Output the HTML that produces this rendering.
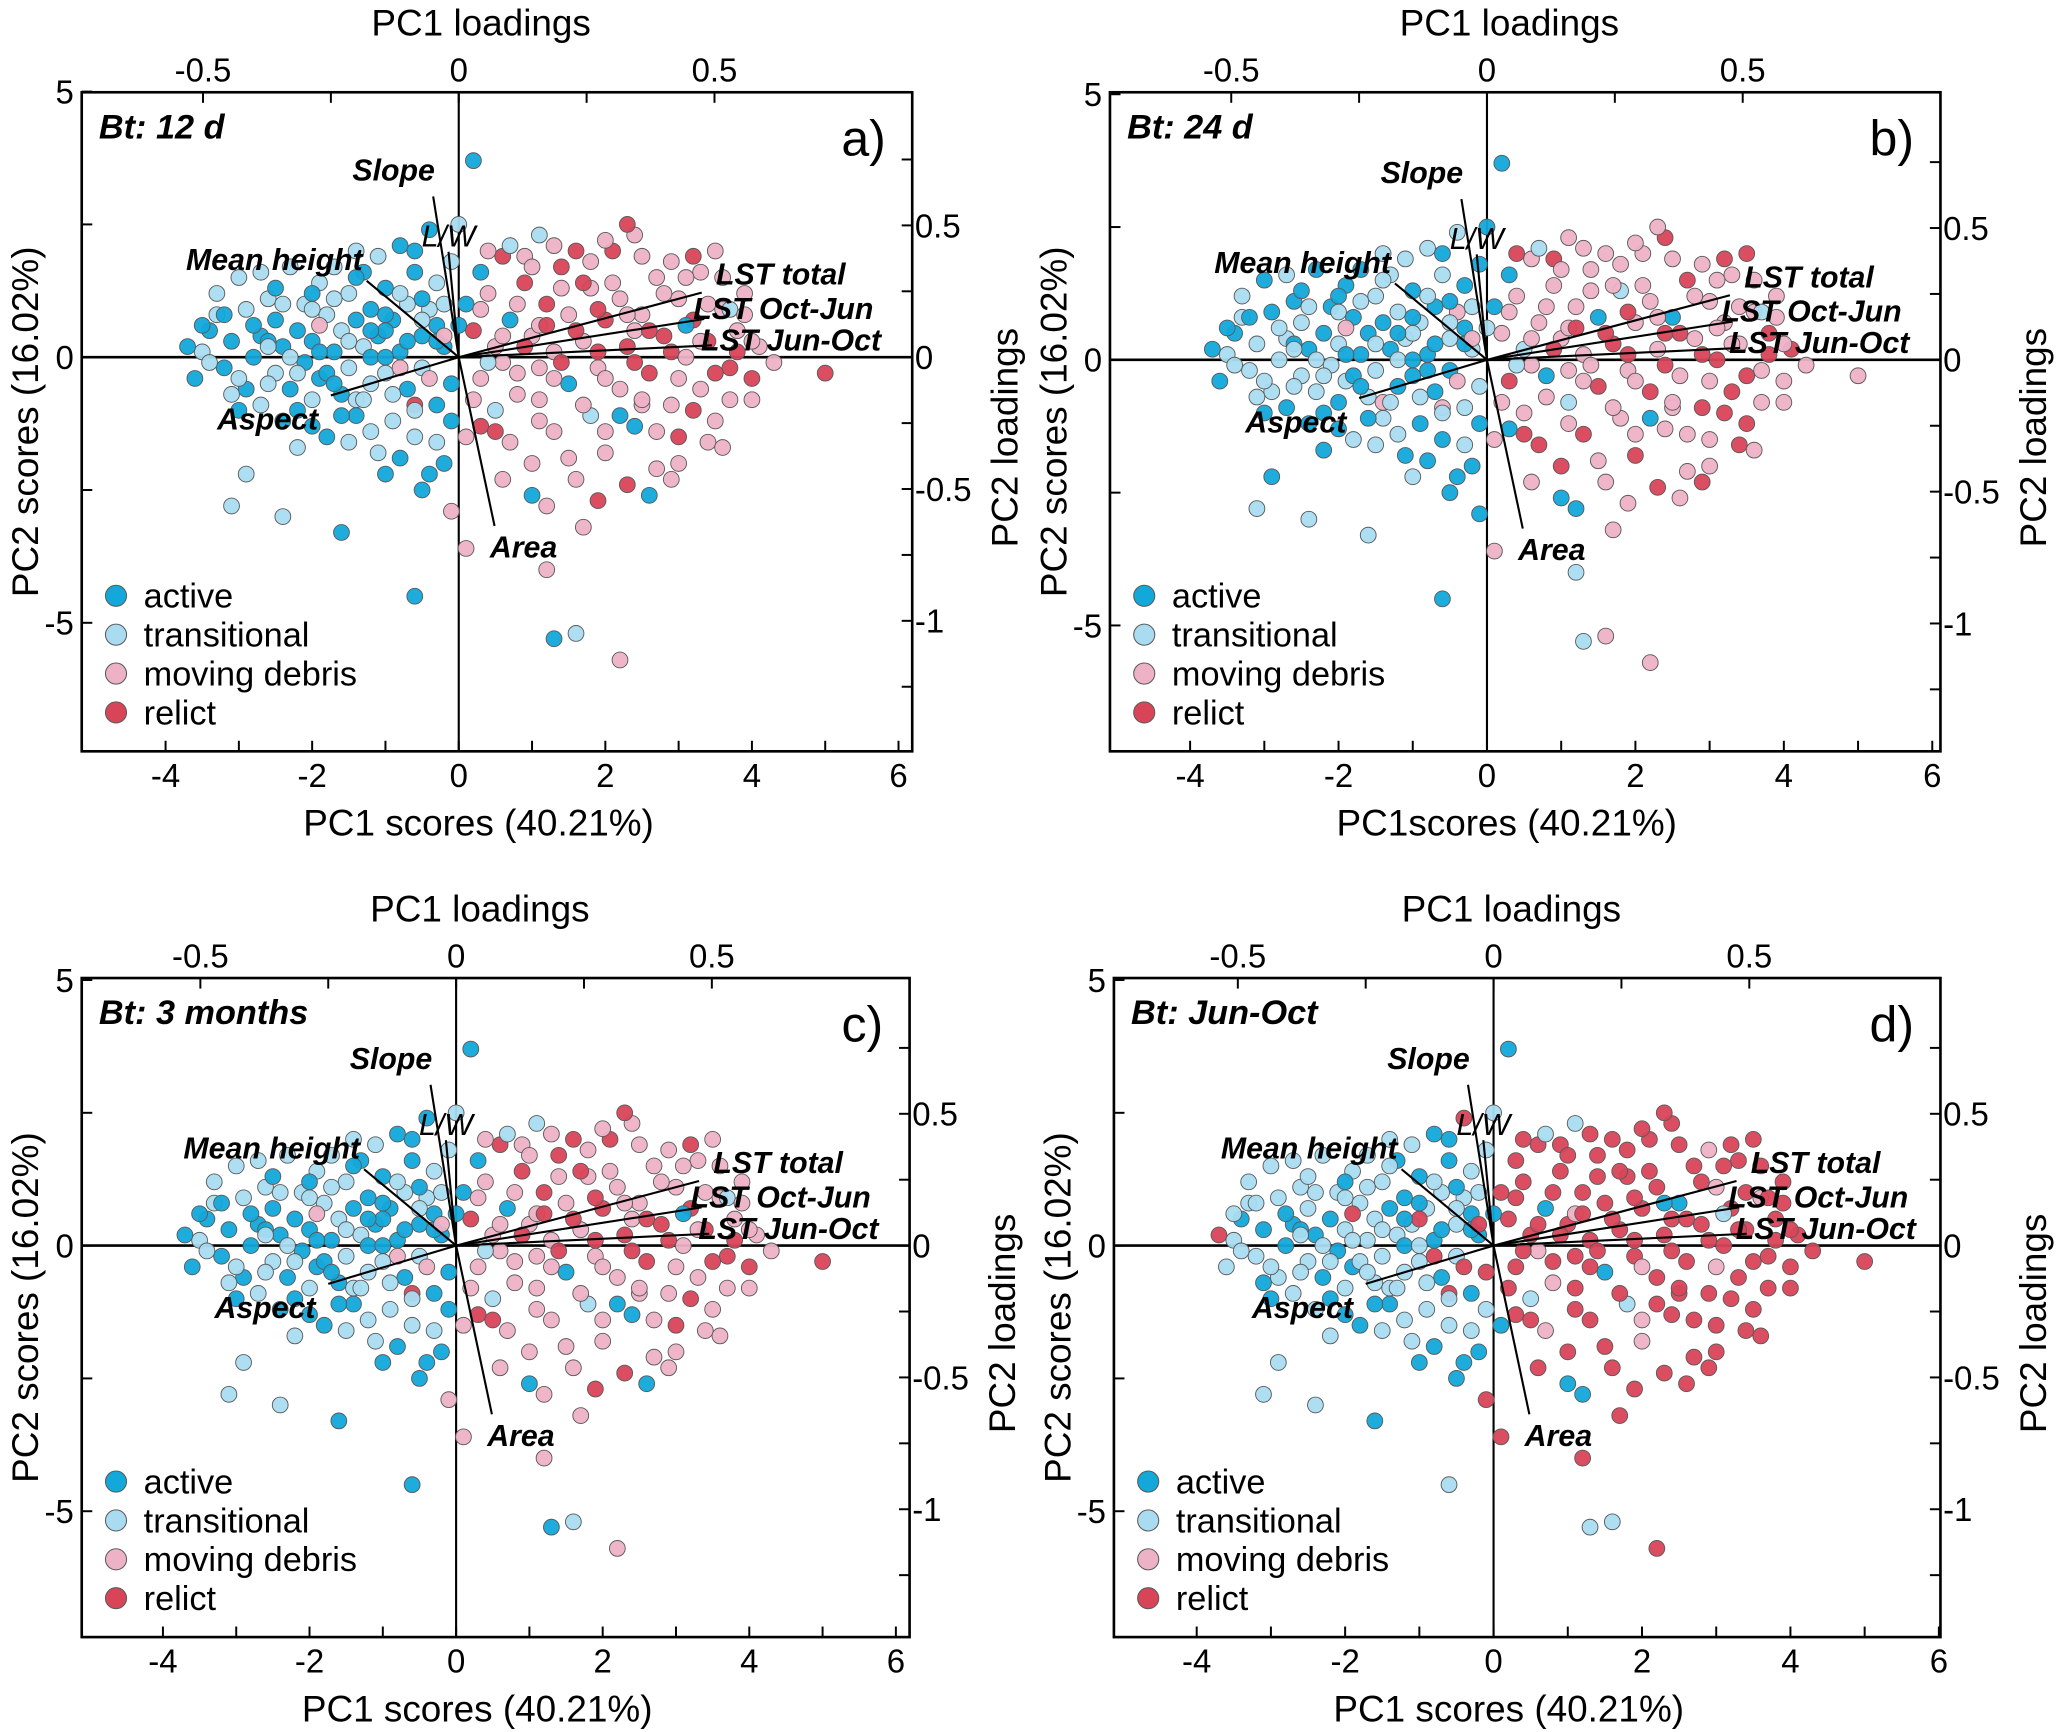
<!DOCTYPE html>
<html><head><meta charset="utf-8"><style>html,body{margin:0;padding:0;background:#fff}svg{display:block}text{font-family:"Liberation Sans",sans-serif}</style></head>
<body>
<svg id="fig" xmlns="http://www.w3.org/2000/svg" width="2067" height="1732" viewBox="0 0 1568 1314" preserveAspectRatio="none"></svg>
<script>
// PC scores (shared sample positions), batch 1
const pc1 = [-3.6,-3.5,-3.4,-3.3,-3.2,-3.1,-3.0,-2.9,-2.9,-2.8,-2.7,-2.7,-2.6,-2.5,-2.5,-2.4,-2.4,-2.3,-2.3,-2.2,-2.1,-2.1,-2.0,-2.0,-1.9,-1.9,-1.8,-1.8,-1.7,-1.7,-1.6,-1.6,-1.5,-1.5,-1.4,-1.4,-1.3,-1.3,-1.2,-1.2,-1.1,-1.1,-1.0,-1.0,-0.9,-0.9,-0.8,-0.8,-0.7,-0.7,-0.6,-0.6,-0.5,-0.5,-0.4,-0.4,-0.3,-0.3,-0.2,-0.2,-0.1,-0.1,0.0,0.0,-3.7,-3.0,-2.2,-1.0,-0.5,
-2.9,-3.1,-2.4,-1.6,-0.6,0.2,-0.1,0.1,
0.2,0.3,0.4,0.5,0.5,0.6,0.7,0.7,0.8,0.9,1.0,1.0,1.1,1.1,1.2,1.3,1.3,1.4,1.5,1.5,1.6,1.6,1.7,1.8,1.8,1.9,2.0,2.0,2.1,2.2,2.2,2.3,2.4,2.4,2.5,2.6,2.7,2.7,2.8,2.9,3.0,3.0,3.1,3.2,3.3,3.3,3.4,3.5,3.6,3.7,3.8,3.9,4.0,4.1,2.6,1.2,1.9,2.9,4.0,4.3,5.0,3.5,2.3,0.4,0.8,1.4,2.4,3.1,3.7,
1.2,2.2,1.6,1.3,
-2.6,-2.2,-1.9,-1.4,-1.0,-0.6,-0.3,-3.3,-2.0,-1.2,-0.8,0.3,0.6,0.9,1.7,2.5,3.4,2.0,1.1];
const pc2 = [-0.4,0.1,0.5,1.2,-0.2,0.3,1.5,-0.6,0.9,0.0,-0.9,0.4,1.1,-0.3,0.7,-1.2,0.2,1.7,-0.6,0.5,1.0,-0.1,-0.8,0.3,1.4,-0.4,0.8,-1.5,0.1,1.7,-0.7,0.5,1.2,-0.2,-1.1,0.7,0.2,1.6,-0.5,0.9,-1.8,0.4,1.3,-0.3,0.7,-1.2,2.1,0.1,-0.6,1.0,1.6,-1.5,0.4,-0.2,2.4,0.9,-0.9,1.4,0.2,-2.0,1.8,-0.5,2.5,0.6,0.2,-1.0,-1.7,-2.2,-2.5,
-2.2,-2.8,-3.0,-3.3,-4.5,3.7,-2.9,-3.6,
0.5,-0.4,1.2,-1.0,0.2,1.9,-1.6,0.7,-0.3,1.4,-2.0,0.4,2.3,-0.8,1.0,-1.4,0.1,1.7,-0.5,0.8,-2.3,2.0,0.3,-1.1,1.3,-0.2,0.7,-1.8,2.0,-0.6,1.1,0.2,2.3,-1.3,0.8,-0.3,1.5,-2.1,0.4,-0.9,1.1,-1.5,0.0,0.7,-0.6,1.6,0.3,-1.2,0.9,-0.2,0.5,1.2,-0.4,0.2,-2.6,-2.8,-2.7,-2.3,-0.8,-0.1,-0.3,2.0,2.5,2.0,1.0,-0.1,0.5,0.6,0.9,
-4.0,-5.7,-5.2,-5.3,
0.3,-0.3,0.6,-0.8,0.5,-0.9,0.3,0.8,1.2,0.0,-0.2,-1.3,-0.1,1.9,1.4,-0.9,-1.6,-1.4,0.6];
// batch 2
const pc1b = [-3.4,-3.2,-3.0,-2.8,-2.6,-2.5,-2.3,-2.2,-2.0,-1.9,-1.8,-1.7,-1.6,-1.5,-1.4,-1.3,-1.2,-1.1,-1.0,-0.9,-0.8,-0.7,-0.6,-0.5,-0.4,-0.3,-0.2,-0.1,-0.3,-0.6,-2.7,-2.4,-3.5,-3.1,-2.0,-1.5,-1.2,-0.8,-0.4,-1.4,0.1,0.2,0.3,0.1,0.4,-0.2,-1.7,-2.6,-1.0,-0.5,
0.3,0.5,0.6,0.8,0.9,1.0,1.1,1.2,1.3,1.4,1.5,1.6,1.7,1.8,1.9,2.0,2.1,2.2,2.3,2.4,2.5,2.5,2.6,2.7,2.8,2.9,3.0,3.1,3.2,3.3,3.4,3.5,3.6,3.7,3.8,3.9,4.0,3.2,2.9,2.0,1.3,0.7,0.6,1.0,1.7,2.3,3.0,3.6,1.1,1.9];
const pc2b = [-0.1,0.8,-0.4,0.6,-0.5,1.3,0.0,-1.0,0.9,0.1,-0.3,1.1,-1.1,0.3,1.5,-0.8,0.5,1.9,0.0,-0.7,1.2,0.3,-1.0,1.1,-0.4,0.6,1.0,-1.2,-1.6,2.0,1.6,1.0,0.6,-0.7,-1.3,-1.6,-1.4,-1.9,-2.2,2.0,1.0,-0.8,1.6,-1.5,-0.1,0.4,-0.5,0.2,0.8,0.7,
0.9,-1.4,0.4,-0.7,0.2,1.7,-1.2,0.6,-0.4,1.3,-1.9,0.5,-0.9,1.8,0.1,-0.4,1.4,-1.1,0.8,-0.1,1.9,-0.8,0.5,-1.4,1.2,0.1,-0.4,1.5,-1.0,0.3,1.0,-0.3,1.5,-0.8,0.1,0.8,0.3,1.9,1.8,2.2,2.1,2.1,-2.3,-2.6,-3.2,-2.4,-2.0,-1.7,-0.2,0.9];
// class per sample: a=active t=transitional m=moving debris r=relict
const classA = "atataatatatattaaataatatatataatatttaatatataatataaatatatatataatataaata"+"atttaaam"+"mrmmtmrmamrmmtmrmmrammrmtmmrmrmmrmamrmmrmmrmrmmrmmrmmrmamrmmmrmrmmrm"+"atmm"+"taatmtarataamrmmrm";
const classB = "atatttatatatattaaataatatatataatatttaatatataatataaatatatmtataatataaata"+"atttaaam"+"mrmmtmrmamrmmtmrmmrammrmtmmrmrmmrmamrmmrmmrmrmmrmmrmmrmamrmmmrmrmmrm"+"ttmm"+"tatmmtmatataamrmmrm";
const classD = "ttattatttatattttataatatttatattttttaatatattatttaaatatttrtataatrtarata"+"atttatar"+"rrrrtrrmarrrrtrrrrrarrrrtrrrmrrrrrrarrrrrmrrrrrrrmrrrrrrarrrrrrrrrrr"+"trrr"+"ttatrtrrataarrmrrrr";
const classA2 = "tatatatata"+"atatatatat"+"tatamatata"+"ttatattaat"+"amamtmatat"+"mrmmrmmrmm"+"mrmmrmmamr"+"mmrmmrmmrm"+"mrmmrmmrmm"+"mtmamrmmmr";
const classB2 = "tatttatata"+"atatttatat"+"tatamatata"+"ttatattaat"+"amamtmatat"+"mrmmrmmrmm"+"mrmmrmmamr"+"mmrmmrmmrm"+"mrmmrmmrmm"+"mtmamrmmmr";
const classD2 = "tttatttatt"+"ttatttattt"+"tatarattta"+"tttaattaat"+"rrrarrttat"+"rrrmrrrrrr"+"rrrrrmrrar"+"rrrrrrmrrr"+"rrrrrrrrmr"+"rtrarrrrrr";
// loadings vectors
const varNames = ["Slope","L/W","Mean height","Aspect","Area","LST total","LST Oct-Jun","LST Jun-Oct"];
const load1 = [-0.05,-0.02,-0.18,-0.25,0.07,0.475,0.48,0.495];
const load2 = [0.61,0.40,0.29,-0.145,-0.64,0.245,0.145,0.045];
// ticks
const xTicks = [-4,-3,-2,-1,0,1,2,3,4,5,6];
const xTickLabels = ["-4","","-2","","0","","2","","4","","6"];
const yTicks = [5,2.5,0,-2.5,-5];
const yTickLabels = ["5","","0","","-5"];
const topTicks = [-0.5,-0.25,0,0.25,0.5];
const topTickLabels = ["-0.5","","0","","0.5"];
const rightTicks = [0.75,0.5,0.25,0,-0.25,-0.5,-0.75,-1,-1.25];
const rightTickLabels = ["","0.5","","0","","-0.5","","-1",""];
const legendNames = ["active","transitional","moving debris","relict"];
const colors = {a:"#12a8da",t:"#a9dcf1",m:"#eeb2c7",r:"#d94558"};
const legendKeys = ["a","t","m","r"];

const panels = [
 {id:"a",L:62,T:70,R:692,B:570,x0:348,ux:55.6,y0:271,title:"Bt: 12 d",cls:classA,cls2:classA2,xt:"PC1 scores (40.21%)"},
 {id:"b",L:842,T:70,R:1472,B:570,x0:1128,ux:56.3,y0:273,title:"Bt: 24 d",cls:classB,cls2:classB2,xt:"PC1scores (40.21%)"},
 {id:"c",L:62,T:742,R:690,B:1242,x0:346,ux:55.6,y0:945,title:"Bt: 3 months",cls:classA,cls2:classA2,xt:"PC1 scores (40.21%)"},
 {id:"d",L:845,T:742,R:1472,B:1242,x0:1133,ux:56.3,y0:945,title:"Bt: Jun-Oct",cls:classD,cls2:classD2,xt:"PC1 scores (40.21%)"}
];
const NS="http://www.w3.org/2000/svg";
const svg=document.getElementById('fig');
function mk(tag,attrs,parent,txt){const e=document.createElementNS(NS,tag);for(const k in attrs)e.setAttribute(k,attrs[k]);if(txt!==undefined)e.textContent=txt;parent.appendChild(e);return e;}
const uy=40.3, lx=388, ly=200;
panels.forEach(p=>{
  const g=mk('g',{},svg);
  
  
  const sx=v=>p.x0+v*p.ux, sy=v=>p.y0-v*uy;
  const lxf=v=>p.x0+v*lx, lyf=v=>p.y0-v*ly;
  const fr=mk('rect',{x:p.L,y:p.T,width:p.R-p.L,height:p.B-p.T,fill:'none',stroke:'#000','stroke-width':2},g);
  
  
  const zh=mk('line',{x1:p.L,x2:p.R,y1:p.y0,y2:p.y0,stroke:'#000','stroke-width':2},g);
  
  
  const zv=mk('line',{x1:p.x0,x2:p.x0,y1:p.T,y2:p.B,stroke:'#000','stroke-width':1.6},g);
  
  
  xTicks.forEach((v,i)=>{const x=sx(v);if(x<p.L||x>p.R)return;
    mk('line',{x1:x,x2:x,y1:p.B,y2:p.B-8,stroke:'#000','stroke-width':1.5},g);
    if(xTickLabels[i]){const t=mk('text',{x:x,y:p.B+27,'font-size':25,'text-anchor':'middle'},g,xTickLabels[i]);
    
    }
  });
  yTicks.forEach((v,i)=>{const y=sy(v);
    mk('line',{x1:p.L,x2:p.L+8,y1:y,y2:y,stroke:'#000','stroke-width':1.5},g);
    if(yTickLabels[i]){const t=mk('text',{x:p.L-6,y:y+9,'font-size':25,'text-anchor':'end'},g,yTickLabels[i]);
    
    }
  });
  topTicks.forEach((v,i)=>{const x=lxf(v);
    mk('line',{x1:x,x2:x,y1:p.T,y2:p.T+8,stroke:'#000','stroke-width':1.5},g);
    if(topTickLabels[i]){const t=mk('text',{x:x,y:p.T-8,'font-size':25,'text-anchor':'middle'},g,topTickLabels[i]);
    
    }
  });
  rightTicks.forEach((v,i)=>{const y=lyf(v);
    mk('line',{x1:p.R,x2:p.R-8,y1:y,y2:y,stroke:'#000','stroke-width':1.5},g);
    if(rightTickLabels[i]){const t=mk('text',{x:p.R+2,y:y+9,'font-size':25},g,rightTickLabels[i]);
    
    }
  });
  const cx=(p.L+p.R)/2, cy=(p.T+p.B)/2;
  const t1=mk('text',{x:cx-12,y:p.T-43,'font-size':28,'text-anchor':'middle'},g,'PC1 loadings');
  
  
  const t2=mk('text',{x:cx-14,y:p.B+64,'font-size':28,'text-anchor':'middle'},g,p.xt);
  
  
  const t3=mk('text',{x:0,y:0,'font-size':28,'text-anchor':'middle',transform:`translate(${p.L-33},${cy}) rotate(-90)`},g,'PC2 scores (16.02%)');
  
  
  const t4=mk('text',{x:0,y:0,'font-size':28,'text-anchor':'middle',transform:`translate(${p.R+80},${cy+12}) rotate(-90)`},g,'PC2 loadings');
  
  
  function drawPts(xs,ys,cls){
    for(let i=0;i<xs.length;i++){
      const c=cls[i]||'m';
      const pt=mk('circle',{cx:sx(xs[i]),cy:sy(ys[i]),r:6,fill:colors[c],stroke:'#5a5a5a','stroke-width':0.7,'fill-opacity':0.95},g);
      
      
    }
  }
  drawPts(pc1,pc2,p.cls);
  drawPts(pc1b,pc2b,p.cls2);
  const lblOff=[[-30,-12],[0,-4],[-70,-8],[-48,26],[22,24],[60,-6],[60,0],[60,4]];
  varNames.forEach((n,i)=>{
    const x=lxf(load1[i]),y=lyf(load2[i]);
    const l=mk('line',{x1:p.x0,y1:p.y0,x2:x,y2:y,stroke:'#000','stroke-width':1.6},g);
    
    
    const t=mk('text',{x:x+lblOff[i][0],y:y+lblOff[i][1],'font-size':23,'font-weight':n==='L/W'?'normal':'bold','font-style':'italic','text-anchor':'middle'},g,n);
    
    
  });
  const pt=mk('text',{x:p.L+13,y:p.T+35,'font-size':26,'font-weight':'bold','font-style':'italic'},g,p.title);
  
  
  const pl=mk('text',{x:p.R-20,y:p.T+48,'font-size':38,'text-anchor':'end'},g,p.id+')');
  
  
  legendNames.forEach((n,i)=>{
    const y=p.T+382+i*29.5;
    const c=mk('circle',{cx:p.L+26,cy:y,r:8,fill:colors[legendKeys[i]],stroke:'#5a5a5a','stroke-width':0.8},g);
    
    
    const t=mk('text',{x:p.L+47,y:y+9,'font-size':26},g,n);
    
    
  });
});
</script>
</body></html>
